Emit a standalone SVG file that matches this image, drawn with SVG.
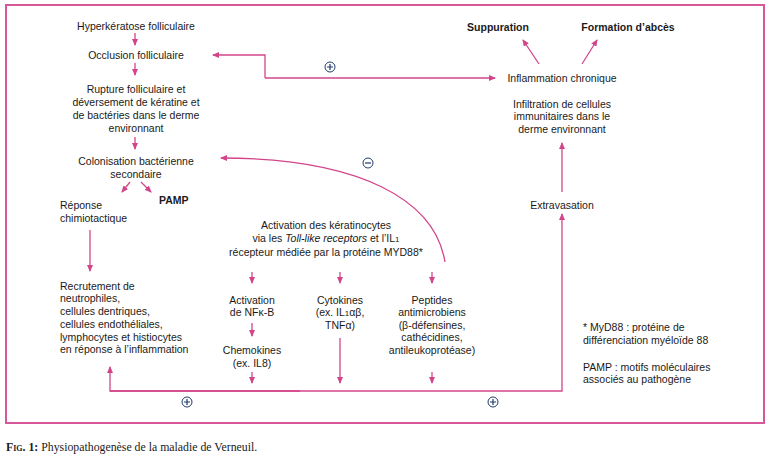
<svg xmlns="http://www.w3.org/2000/svg" width="770" height="460" viewBox="0 0 770 460">
<style>
text{font-family:"Liberation Sans",Arial,sans-serif;font-size:10.5px;fill:#1a1a1a}
.c{text-anchor:middle}
.b{font-weight:bold}
.ln{fill:none;stroke:#d2458a;stroke-width:1.3}
.sg{fill:#fff;stroke:#1f3a6b;stroke-width:1}
.sl{stroke:#1f3a6b;stroke-width:1.2}
.cap{font-family:"Liberation Serif","Times New Roman",serif;font-size:11.8px}
</style>
<defs>
<marker id="ah" markerUnits="userSpaceOnUse" markerWidth="7" markerHeight="6" refX="6" refY="3" orient="auto">
<path d="M0,0 L7,3 L0,6 z" fill="#d2458a"/>
</marker>
</defs>
<rect x="6" y="5" width="758" height="418" fill="#fff" stroke="#d6589a" stroke-width="2"/>

<g id="connectors">
<path class="ln" marker-end="url(#ah)" d="M135,33 L135,45"/>
<path class="ln" marker-end="url(#ah)" d="M135,63 L135,75"/>
<path class="ln" marker-end="url(#ah)" d="M135,137 L135,149"/>
<path class="ln" marker-end="url(#ah)" d="M130,182 L122,192"/>
<path class="ln" marker-end="url(#ah)" d="M141,182 L151,192"/>
<path class="ln" marker-end="url(#ah)" d="M90,230 L90,271"/>
<path class="ln" marker-end="url(#ah)" d="M252,272 L252,283"/>
<path class="ln" marker-end="url(#ah)" d="M340,272 L340,283"/>
<path class="ln" marker-end="url(#ah)" d="M432,272 L432,283"/>
<path class="ln" marker-end="url(#ah)" d="M252,323 L252,336"/>
<path class="ln" marker-end="url(#ah)" d="M252,372 L252,383"/>
<path class="ln" marker-end="url(#ah)" d="M340,338 L340,383"/>
<path class="ln" marker-end="url(#ah)" d="M432,372 L432,383"/>
<path class="ln" marker-end="url(#ah)" d="M300,391 L110,391 L110,367"/>
<path class="ln" marker-end="url(#ah)" d="M110,391 L562,391 L562,214"/>
<path class="ln" marker-end="url(#ah)" d="M265,78 L265,55 L213,55"/>
<path class="ln" marker-end="url(#ah)" d="M265,78 L495,78"/>
<path class="ln" marker-end="url(#ah)" d="M445,262 C435,200 360,158 221,158"/>
<path class="ln" marker-end="url(#ah)" d="M562,192 L562,143"/>
<path class="ln" marker-end="url(#ah)" d="M539,64 L523,40"/>
<path class="ln" marker-end="url(#ah)" d="M582,64 L597,40"/>
</g>

<g id="signs">
<g id="plus1"><circle class="sg" cx="330" cy="67" r="5"/><path class="sl" d="M327,67 H333 M330,64 V70"/></g>
<g id="plus2"><circle class="sg" cx="187" cy="402" r="5"/><path class="sl" d="M184,402 H190 M187,399 V405"/></g>
<g id="plus3"><circle class="sg" cx="493" cy="402" r="5"/><path class="sl" d="M490,402 H496 M493,399 V405"/></g>
<g id="minus1"><circle class="sg" cx="368" cy="163" r="5"/><path class="sl" d="M365,163 H371"/></g>
</g>

<g id="n-hyper"><text class="c" x="136" y="30">Hyperkératose folliculaire</text></g>
<g id="n-occlusion"><text class="c" x="136" y="59">Occlusion folliculaire</text></g>
<g id="n-rupture"><text class="c" x="136" y="93">Rupture folliculaire et</text><text class="c" x="136" y="106">déversement de kératine et</text><text class="c" x="136" y="119">de bactéries dans le derme</text><text class="c" x="136" y="132">environnant</text></g>
<g id="n-colonisation"><text class="c" x="136" y="165">Colonisation bactérienne</text><text class="c" x="136" y="178">secondaire</text></g>
<g id="n-pamp"><text class="b" x="159" y="204">PAMP</text></g>
<g id="n-reponse"><text x="60" y="209">Réponse</text><text x="60" y="222">chimiotactique</text></g>
<g id="n-recrutement"><text x="60" y="290">Recrutement de</text><text x="60" y="302">neutrophiles,</text><text x="60" y="315">cellules dentriques,</text><text x="60" y="328">cellules endothéliales,</text><text x="60" y="341">lymphocytes et histiocytes</text><text x="60" y="353">en réponse à l’inflammation</text></g>
<g id="n-activation-ker"><text class="c" x="326" y="229">Activation des kératinocytes</text><text class="c" x="326" y="242">via les <tspan font-style="italic">Toll-like receptors</tspan> et l’IL<tspan font-size="8">1</tspan></text><text class="c" x="326" y="256">récepteur médiée par la protéine MYD88*</text></g>
<g id="n-nfkb"><text class="c" x="252" y="304">Activation</text><text class="c" x="252" y="316">de NFκ-B</text></g>
<g id="n-chemokines"><text class="c" x="252" y="354">Chemokines</text><text class="c" x="252" y="367">(ex. IL8)</text></g>
<g id="n-cytokines"><text class="c" x="340" y="304">Cytokines</text><text class="c" x="340" y="316">(ex. IL<tspan font-size="8">1</tspan>αβ,</text><text class="c" x="340" y="329">TNFα)</text></g>
<g id="n-peptides"><text class="c" x="432" y="304">Peptides</text><text class="c" x="432" y="316">antimicrobiens</text><text class="c" x="432" y="329">(β-défensines,</text><text class="c" x="432" y="341">cathécidines,</text><text class="c" x="432" y="354">antileukoprotéase)</text></g>
<g id="n-suppuration"><text class="c b" x="498" y="31">Suppuration</text></g>
<g id="n-abces"><text class="c b" x="628" y="31">Formation d’abcès</text></g>
<g id="n-inflammation"><text class="c" x="562" y="82">Inflammation chronique</text></g>
<g id="n-infiltration"><text class="c" x="562" y="108">Infiltration de cellules</text><text class="c" x="562" y="120">immunitaires dans le</text><text class="c" x="562" y="133">derme environnant</text></g>
<g id="n-extravasation"><text class="c" x="562" y="209">Extravasation</text></g>
<g id="notes"><text x="583" y="331">* MyD88 : protéine de</text><text x="583" y="344">différenciation myéloïde 88</text><text x="583" y="371">PAMP : motifs moléculaires</text><text x="583" y="383">associés au pathogène</text></g>
<text class="cap" x="6" y="451"><tspan font-weight="bold" font-variant="small-caps">Fig. 1:</tspan> Physiopathogenèse de la maladie de Verneuil.</text>
</svg>
